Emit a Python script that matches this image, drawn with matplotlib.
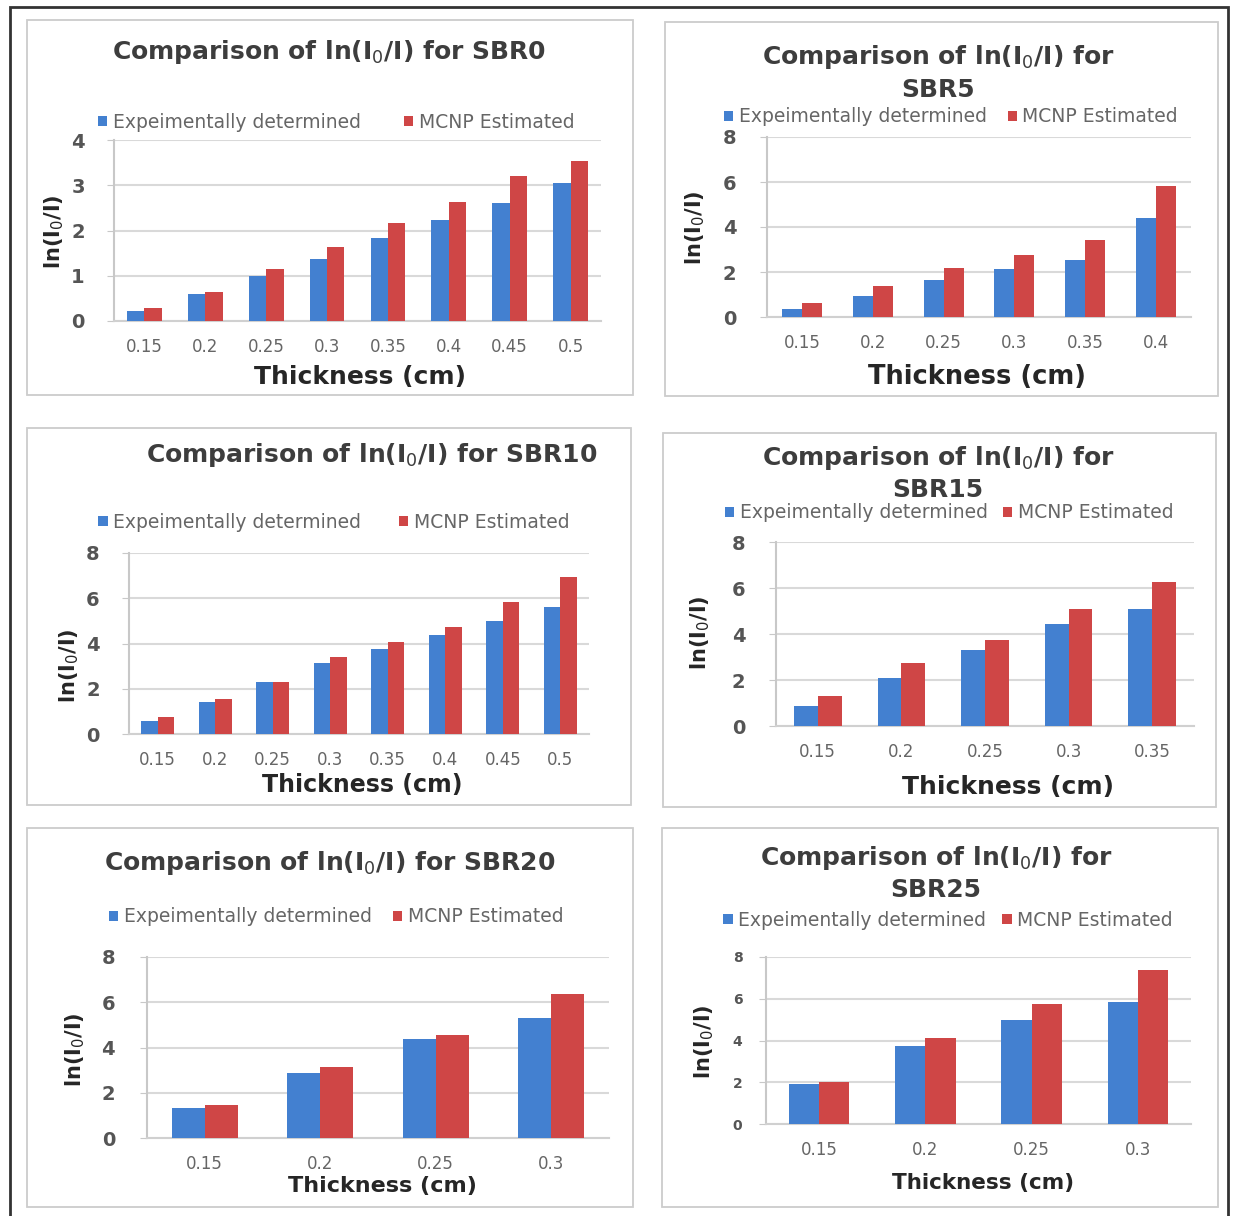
import numpy as np
import matplotlib
matplotlib.use('Agg')
import matplotlib.pyplot as plt
from matplotlib.patches import Rectangle

# values
thickness_8 = ['0.15', '0.2', '0.25', '0.3', '0.35', '0.4', '0.45', '0.5']
thickness_6 = ['0.15', '0.2', '0.25', '0.3', '0.35', '0.4']
thickness_5 = ['0.15', '0.2', '0.25', '0.3', '0.35']
thickness_4 = ['0.15', '0.2', '0.25', '0.3']

exp_sbr0 = [0.23, 0.60, 0.99, 1.36, 1.83, 2.23, 2.60, 3.04]
mcnp_sbr0 = [0.29, 0.63, 1.14, 1.64, 2.17, 2.63, 3.20, 3.54]

exp_sbr5 = [0.37, 0.93, 1.63, 2.15, 2.55, 4.41]
mcnp_sbr5 = [0.62, 1.36, 2.19, 2.74, 3.44, 5.82]

exp_sbr10 = [0.59, 1.41, 2.28, 3.16, 3.74, 4.38, 5.00, 5.60]
mcnp_sbr10 = [0.73, 1.54, 2.28, 3.42, 4.08, 4.74, 5.84, 6.93]

exp_sbr15 = [0.87, 2.10, 3.30, 4.42, 5.07]
mcnp_sbr15 = [1.30, 2.72, 3.74, 5.07, 6.26]

exp_sbr20 = [1.32, 2.89, 4.36, 5.29]
mcnp_sbr20 = [1.47, 3.16, 4.55, 6.36]

exp_sbr25 = [1.91, 3.74, 5.00, 5.85]
mcnp_sbr25 = [1.99, 4.10, 5.74, 7.36]

label_exp = 'Expeimentally determined'
label_mcnp = 'MCNP Estimated'

BLUE = '#4380D0'
RED = '#CF4646'
W, H = 1239, 1216

fig = plt.figure(figsize=(W / 100, H / 100), dpi=100)
fig.patch.set_facecolor('white')


def fx(x):
    return x / W


def fy(y):
    return 1 - y / H


# outer frame
fig.patches.append(Rectangle((fx(10), fy(1240)), fx(1228) - fx(10), fy(7) - fy(1240),
                             transform=fig.transFigure, fill=False, ec='#333333', lw=2))

panels = [
    dict(cats=thickness_8, exp=exp_sbr0, mcnp=mcnp_sbr0, box=(27, 20, 633, 395),
         ax=(114, 140, 601, 321), ymax=4, step=1,
         title=['Comparison of ln(I$_0$/I) for SBR0'], ty=[52], tx=329,
         leg=(336, 122), cs=2.3, yl=(54, 232), xl=(360, 377), xls=18, ytsize=14, ypad=16),
    dict(cats=thickness_6, exp=exp_sbr5, mcnp=mcnp_sbr5, box=(665, 22, 1218, 396),
         ax=(767, 137, 1191, 317), ymax=8, step=2,
         title=['Comparison of ln(I$_0$/I) for', 'SBR5'], ty=[57, 90], tx=938,
         leg=(951, 117), cs=1.1, yl=(695, 228), xl=(977, 377), xls=18.5, ytsize=14, ypad=17),
    dict(cats=thickness_8, exp=exp_sbr10, mcnp=mcnp_sbr10, box=(27, 428, 631, 805),
         ax=(129, 553, 589, 734), ymax=8, step=2,
         title=['Comparison of ln(I$_0$/I) for SBR10'], ty=[455], tx=372,
         leg=(334, 522), cs=2.0, yl=(69, 666), xl=(362, 785), xls=17, ytsize=14, ypad=16),
    dict(cats=thickness_5, exp=exp_sbr15, mcnp=mcnp_sbr15, box=(663, 433, 1216, 807),
         ax=(776, 542, 1194, 726), ymax=8, step=2,
         title=['Comparison of ln(I$_0$/I) for', 'SBR15'], ty=[458, 490], tx=938,
         leg=(949, 513), cs=0.8, yl=(700, 633), xl=(1008, 787), xls=18, ytsize=14, ypad=17),
    dict(cats=thickness_4, exp=exp_sbr20, mcnp=mcnp_sbr20, box=(27, 828, 633, 1207),
         ax=(147, 957, 609, 1138), ymax=8, step=2,
         title=['Comparison of ln(I$_0$/I) for SBR20'], ty=[863], tx=330,
         leg=(336, 917), cs=1.1, yl=(75, 1050), xl=(382, 1186), xls=16, ytsize=14, ypad=18),
    dict(cats=thickness_4, exp=exp_sbr25, mcnp=mcnp_sbr25, box=(662, 828, 1218, 1207),
         ax=(766, 957, 1191, 1124), ymax=8, step=2,
         title=['Comparison of ln(I$_0$/I) for', 'SBR25'], ty=[858, 890], tx=936,
         leg=(948, 920), cs=0.85, yl=(704, 1042), xl=(983, 1183), xls=15.5, ytsize=10, ypad=12),
]

bw = 0.285
for p in panels:
    bl, bt, br, bb = p['box']
    fig.patches.append(Rectangle((fx(bl), fy(bb)), fx(br) - fx(bl), fy(bt) - fy(bb),
                                 transform=fig.transFigure, fill=False, ec='#cccccc', lw=1.3))

    l, t, r, b = p['ax']
    ax = fig.add_axes([fx(l), fy(b), fx(r) - fx(l), fy(t) - fy(b)])
    x = np.arange(len(p['cats']))
    b1 = ax.bar(x - bw / 2, p['exp'], bw, color=BLUE, label=label_exp, zorder=3)
    b2 = ax.bar(x + bw / 2, p['mcnp'], bw, color=RED, label=label_mcnp, zorder=3)
    ax.set_xlim(-0.5, len(x) - 0.5)
    ax.set_ylim(0, p['ymax'])
    ax.set_yticks(np.arange(0, p['ymax'] + 0.01, p['step']))
    ax.set_xticks(x)
    ax.set_xticklabels(p['cats'])
    ax.yaxis.grid(True, color='#d9d9d9', lw=1.5, zorder=0)
    ax.set_axisbelow(True)
    for s in ['top', 'right']:
        ax.spines[s].set_visible(False)
    ax.spines['left'].set_color('#c8c8c8')
    ax.spines['bottom'].set_color('#d0d0d0')
    ax.spines['left'].set_linewidth(1.5)
    ax.spines['bottom'].set_linewidth(1.5)
    ax.tick_params(axis='x', length=0, pad=12, labelsize=12, labelcolor='#666666')
    ax.tick_params(axis='y', length=5, color='#c8c8c8', pad=p['ypad'],
                   labelsize=p['ytsize'], labelcolor='#555555')
    for lab in ax.get_yticklabels():
        lab.set_fontweight('bold')

    for line, yy in zip(p['title'], p['ty']):
        fig.text(fx(p['tx']), fy(yy), line, ha='center', va='center',
                 fontsize=18, fontweight='bold', color='#3d3d3d')

    ax.legend(handles=[b1, b2], loc='center', bbox_to_anchor=(fx(p['leg'][0]), fy(p['leg'][1])),
              bbox_transform=fig.transFigure, ncol=2, frameon=False, fontsize=13.5,
              labelcolor='#666666', handlelength=0.5, handleheight=0.5,
              handletextpad=0.3, columnspacing=p['cs'], borderpad=0)

    fig.text(fx(p['yl'][0]), fy(p['yl'][1]), 'ln(I$_0$/I)', rotation=90, ha='center', va='center',
             fontsize=15, fontweight='bold', color='#262626')
    fig.text(fx(p['xl'][0]), fy(p['xl'][1]), 'Thickness (cm)', ha='center', va='center',
             fontsize=p['xls'], fontweight='bold', color='#262626')

fig.savefig('out.png', dpi=100)
